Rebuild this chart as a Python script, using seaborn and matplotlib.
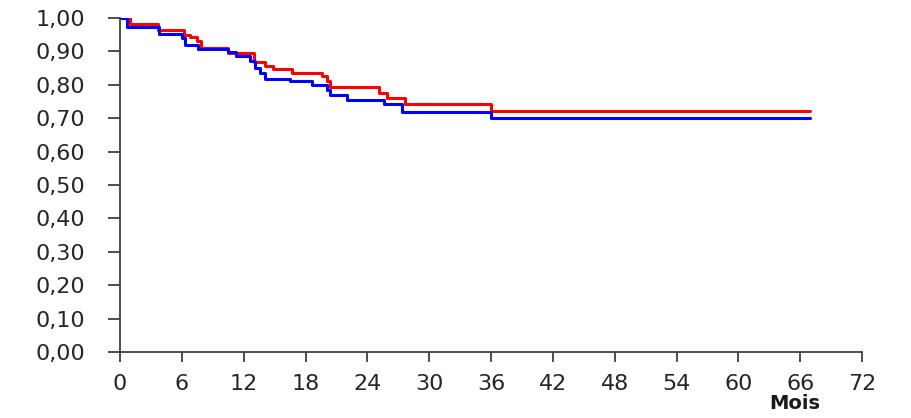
import pandas as pd
import numpy as np
import matplotlib
matplotlib.use('Agg')
import matplotlib.pyplot as plt
import seaborn as sns
from matplotlib.ticker import FuncFormatter, MultipleLocator

# survival curves (months, survival)
t_rouge = [0, 1.0, 3.7, 6.2, 6.8, 7.5, 7.9, 10.5, 13.0, 14.1, 14.8, 16.7, 19.6, 20.1, 20.4, 25.1, 25.9, 27.7, 36.0, 67]
s_rouge = [1.0, 0.983, 0.963, 0.950, 0.943, 0.930, 0.909, 0.894, 0.867, 0.856, 0.846, 0.834, 0.825, 0.81, 0.792, 0.774, 0.759, 0.741, 0.72, 0.72]

t_bleu = [0, 0.7, 3.8, 6.0, 6.3, 7.6, 10.5, 11.3, 12.6, 13.1, 13.6, 14.1, 16.5, 18.6, 20.1, 20.4, 22.0, 25.6, 27.4, 36.0, 67]
s_bleu = [1.0, 0.973, 0.953, 0.939, 0.918, 0.906, 0.897, 0.885, 0.87, 0.85, 0.834, 0.816, 0.81, 0.80, 0.784, 0.769, 0.754, 0.741, 0.719, 0.70, 0.70]

x_ticks = list(range(0, 73, 6))

df = pd.concat([
    pd.DataFrame({'Mois': t_rouge, 'Survie': s_rouge, 'Groupe': 'Groupe 1'}),
    pd.DataFrame({'Mois': t_bleu, 'Survie': s_bleu, 'Groupe': 'Groupe 2'}),
])

sns.set_style('white')
plt.rcParams['font.family'] = ['DejaVu Sans']

fig = plt.figure(figsize=(9.12, 4.18), dpi=100)
ax = fig.add_axes([0.1316, 0.158, 0.8136, 0.799])

sns.lineplot(data=df, x='Mois', y='Survie', hue='Groupe',
             palette={'Groupe 1': '#ff0000', 'Groupe 2': '#0000ff'},
             estimator=None, sort=False, drawstyle='steps-post',
             linewidth=2.2, legend=False, ax=ax)

ax.set_xlim(0, 72)
ax.set_ylim(0, 1.0)
ax.set_xticks(x_ticks)
ax.yaxis.set_major_locator(MultipleLocator(0.1))
ax.yaxis.set_major_formatter(FuncFormatter(lambda v, _: f"{v:.2f}".replace('.', ',')))

for side in ['top', 'right']:
    ax.spines[side].set_visible(False)
for side in ['left', 'bottom']:
    ax.spines[side].set_color('#404040')
    ax.spines[side].set_linewidth(1.3)

ax.tick_params(axis='y', left=True, direction='out', length=9, width=1.3, color='#404040',
               pad=16, labelsize=16, labelcolor='#262626')
ax.tick_params(axis='x', bottom=True, direction='out', length=7, width=1.3, color='#404040',
               pad=9, labelsize=16, labelcolor='#262626')

ax.set_ylabel('')
ax.set_xlabel('')
ax.text(0.91, -0.155, 'Mois', transform=ax.transAxes, ha='center', va='center',
        fontsize=14, fontweight='bold', color='#1a1a1a')

fig.savefig('out.png', dpi=100)
